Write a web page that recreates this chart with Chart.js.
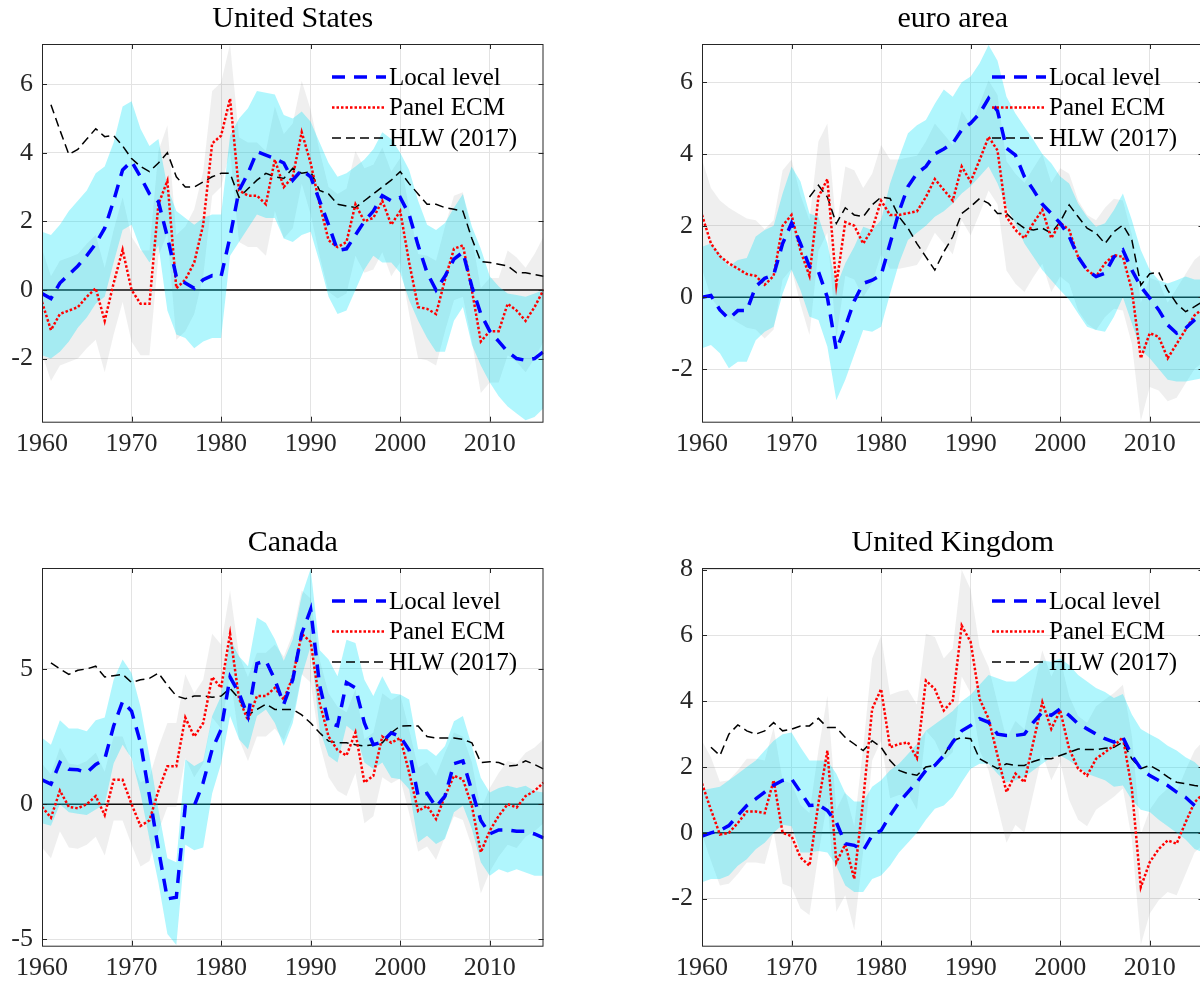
<!DOCTYPE html>
<html>
<head>
<meta charset="utf-8">
<script src="https://cdn.jsdelivr.net/npm/chart.js@4.4.1/dist/chart.umd.min.js"></script>
<style>
  html, body { margin: 0; padding: 0; width: 1200px; height: 988px; overflow: hidden; background: #fff; }
  .panel { position: absolute; width: 560px; height: 470px; }
</style>
</head>
<body>
<div class="panel" style="left:0;top:0"><canvas id="c0" width="560" height="470"></canvas></div>
<div class="panel" style="left:660px;top:0"><canvas id="c1" width="560" height="470"></canvas></div>
<div class="panel" style="left:0;top:524px"><canvas id="c2" width="560" height="470"></canvas></div>
<div class="panel" style="left:660px;top:524px"><canvas id="c3" width="560" height="470"></canvas></div>
<script>
const years = [1960, 1961, 1962, 1963, 1964, 1965, 1966, 1967, 1968, 1969,
  1970, 1971, 1972, 1973, 1974, 1975, 1976, 1977, 1978, 1979,
  1980, 1981, 1982, 1983, 1984, 1985, 1986, 1987, 1988, 1989,
  1990, 1991, 1992, 1993, 1994, 1995, 1996, 1997, 1998, 1999,
  2000, 2001, 2002, 2003, 2004, 2005, 2006, 2007, 2008, 2009,
  2010, 2011, 2012, 2013, 2014, 2015, 2016];
const xTicks = [1960, 1970, 1980, 1990, 2000, 2010];
const legendLabels = ['Local level', 'Panel ECM', 'HLW (2017)'];

// United States
const usLocal = [-0.1, -0.25, 0.2, 0.45, 0.7, 1.0, 1.35, 1.8, 2.6, 3.5,
  3.75, 3.3, 2.8, 2.57, 1.55, 0.39, 0.2, 0.05, 0.3, 0.42,
  0.4, 1.55, 2.9, 3.4, 4.03, 3.93, 3.83, 3.7, 3.2, 3.5,
  3.3, 2.6, 1.9, 1.15, 1.2, 1.6, 2.0, 2.3, 2.75, 2.6,
  2.7, 2.2, 1.3, 0.5, 0.0, 0.4, 0.9, 1.1, 0.1, -0.7,
  -1.2, -1.5, -1.8, -2.0, -2.05, -2.0, -1.8];
const usEcm = [-0.35, -1.17, -0.7, -0.6, -0.5, -0.2, 0.05, -0.9, 0.2, 1.17,
  0.0, -0.4, -0.4, 2.5, 3.18, 0.05, 0.3, 0.8, 1.9, 4.27,
  4.5, 5.58, 2.9, 2.75, 2.75, 2.5, 3.8, 3.0, 3.3, 4.6,
  3.7, 2.5, 1.45, 1.25, 1.4, 2.5, 2.0, 2.1, 2.6, 1.9,
  2.3, 0.8, -0.5, -0.55, -0.7, 0.3, 1.2, 1.3, 0.0, -1.5,
  -1.2, -1.2, -0.4, -0.6, -0.9, -0.5, 0.0];
const usHlw = [null, 5.4, 4.66, 3.95, 4.1, 4.4, 4.7, 4.47, 4.5, 4.2,
  3.83, 3.6, 3.45, 3.7, 4.0, 3.3, 3.0, 3.0, 3.15, 3.3,
  3.4, 3.4, 2.7, 2.95, 3.2, 3.4, 3.3, 3.25, 3.55, 3.4,
  3.45, 2.9, 2.8, 2.5, 2.45, 2.4, 2.6, 2.8, 3.0, 3.2,
  3.45, 3.1, 2.8, 2.5, 2.5, 2.4, 2.35, 2.3, 1.5, 0.83,
  0.8, 0.75, 0.7, 0.5, 0.5, 0.45, 0.4];
const usBandHi = [1.7, 1.6, 1.9, 2.3, 2.6, 2.9, 3.4, 3.6, 4.3, 5.35,
  5.5, 4.7, 4.2, 4.4, 3.0, 2.3, 2.1, 1.9, 2.1, 2.2,
  2.2, 4.5, 5.0, 5.3, 5.8, 5.75, 5.7, 5.1, 5.0, 5.2,
  4.9, 4.3, 3.7, 3.3, 3.4, 3.6, 3.8, 4.1, 4.6, 4.4,
  4.0, 3.5, 2.6, 1.9, 1.75, 1.95, 2.4, 2.8, 1.85, 1.2,
  0.4, 0.1, -0.1, -0.15, -0.2, -0.1, 0.0];
const usBandLo = [-1.9, -2.0, -1.8, -1.5, -1.1, -0.8, -0.4, -0.2, 0.8, 1.75,
  1.9, 1.2, 0.8, 1.3, -0.6, -1.3, -1.4, -1.7, -1.5, -1.4,
  -1.4, 1.0, 1.4, 1.8, 2.2, 2.1, 2.1, 1.5, 1.4, 1.6,
  1.7, 0.8, -0.2, -0.7, -0.6, 0.0, 0.6, 1.0, 0.8, 0.8,
  0.5, -0.3, -0.9, -1.4, -1.8, -1.8, -0.9, -0.5, -1.6, -2.2,
  -2.7, -3.1, -3.4, -3.6, -3.8, -3.7, -3.45];
const usGreyHi = [1.2, 0.4, 0.85, 0.95, 1.05, 1.35, 1.6, 0.65, 1.75, 2.7,
  1.55, 1.15, 1.15, 4.05, 4.8, 1.6, 1.85, 2.35, 3.45, 5.8,
  6.05, 7.17, 4.45, 4.3, 4.3, 4.05, 5.35, 4.55, 4.85, 6.1,
  5.25, 4.05, 3.0, 2.8, 2.95, 4.05, 3.55, 3.65, 4.15, 3.45,
  3.85, 2.35, 1.05, 1.0, 0.85, 1.85, 2.75, 2.85, 1.55, 0.05,
  0.35, 0.35, 1.15, 0.95, 0.65, 1.05, 1.55];
const usGreyLo = [-1.85, -2.65, -2.2, -2.1, -2.0, -1.7, -1.45, -2.4, -1.3, -0.35,
  -1.5, -1.9, -1.9, 1.0, 1.65, -1.45, -1.2, -0.7, 0.4, 2.75,
  3.0, 4.05, 1.4, 1.25, 1.25, 1.0, 2.3, 1.5, 1.8, 3.1,
  2.2, 1.0, -0.05, -0.25, -0.1, 1.0, 0.5, 0.6, 1.1, 0.4,
  0.8, -0.7, -2.0, -2.05, -2.2, -1.2, -0.3, -0.2, -1.5, -3.0,
  -2.7, -2.7, -1.9, -2.1, -2.4, -2.0, -1.5];
const usTicks = [-2, 0, 2, 4, 6];

// euro area
const eaLocal = [0.0, 0.05, -0.35, -0.6, -0.37, -0.37, 0.3, 0.53, 0.62, 1.5,
  2.07, 1.5, 0.86, 0.72, 0.0, -1.47, -0.82, -0.1, 0.39, 0.48,
  0.62, 1.5, 2.39, 3.09, 3.46, 3.65, 4.0, 4.14, 4.3, 4.67,
  4.86, 5.13, 5.55, 5.2, 4.16, 3.97, 3.37, 3.0, 2.6, 2.34,
  2.07, 1.7, 1.13, 0.76, 0.58, 0.67, 1.13, 1.32, 0.76, 0.3,
  -0.02, -0.35, -0.77, -1.0, -0.86, -0.63, -0.45];
const eaEcm = [2.3, 1.5, 1.15, 0.95, 0.8, 0.65, 0.6, 0.35, 0.6, 2.0,
  2.3, 1.3, 0.6, 2.8, 3.3, 0.35, 2.1, 2.0, 1.5, 1.9,
  2.7, 2.3, 2.3, 2.35, 2.4, 2.8, 3.3, 3.0, 2.7, 3.65,
  3.23, 3.83, 4.48, 4.1, 2.25, 1.88, 1.65, 2.07, 2.44, 1.65,
  2.08, 1.88, 1.13, 0.76, 0.58, 0.95, 1.18, 1.13, 0.2, -1.7,
  -1.0, -1.1, -1.7, -1.3, -0.9, -0.5, -0.3];
const eaHlw = [null, null, null, null, null, null, null, null, null, null,
  null, null, 2.8, 3.13, 2.8, 2.06, 2.5, 2.3, 2.25, 2.58,
  2.8, 2.76, 2.25, 1.93, 1.5, 1.13, 0.76, 1.27, 1.69, 2.34,
  2.53, 2.76, 2.62, 2.34, 2.34, 2.11, 1.93, 1.88, 1.93, 1.79,
  2.11, 2.58, 2.25, 1.93, 1.79, 1.5, 1.83, 2.02, 1.6, 0.34,
  0.66, 0.7, 0.2, -0.17, -0.4, -0.26, -0.1];
const eaBandHi = [1.41, 1.5, 1.23, 0.86, 1.04, 1.1, 1.7, 1.88, 2.0, 2.9,
  3.65, 3.23, 2.34, 2.25, 1.5, 0.3, 0.95, 1.41, 1.97, 1.88,
  2.16, 3.18, 3.9, 4.58, 4.8, 4.95, 5.4, 5.8, 5.6, 6.0,
  6.16, 6.53, 7.04, 6.6, 5.6, 5.13, 4.76, 4.4, 4.0, 3.74,
  3.37, 3.18, 2.62, 2.25, 1.97, 2.07, 2.44, 2.9, 2.16, 1.32,
  0.76, 0.48, 0.39, 0.48, 0.58, 0.5, 0.5];
const eaBandLo = [-1.42, -1.33, -1.56, -1.98, -1.8, -1.8, -1.2, -0.96, -0.82, 0.1,
  0.77, 0.2, -0.54, -0.63, -1.38, -2.87, -2.3, -1.6, -0.91, -0.96,
  -0.82, 0.1, 0.95, 1.6, 1.8, 2.0, 2.25, 2.4, 2.62, 2.9,
  3.1, 3.37, 3.65, 3.18, 2.53, 2.07, 1.5, 1.13, 0.76, 0.48,
  0.2, -0.07, -0.45, -0.82, -0.91, -0.96, -0.54, 0.0, -0.73, -1.47,
  -1.7, -2.0, -2.3, -2.35, -2.35, -2.3, -2.25];
const eaGreyHi = [3.85, 3.05, 2.7, 2.5, 2.35, 2.2, 2.15, 1.9, 2.15, 3.55,
  3.85, 2.85, 2.15, 4.35, 4.85, 1.9, 3.65, 3.55, 3.05, 3.45,
  4.25, 3.85, 3.85, 3.9, 3.95, 4.35, 4.85, 4.55, 4.25, 5.2,
  4.8, 5.4, 6.05, 5.65, 3.8, 3.45, 3.2, 3.6, 4.0, 3.2,
  3.6, 3.45, 2.7, 2.3, 2.15, 2.5, 2.75, 2.7, 1.75, -0.15,
  0.55, 0.45, -0.15, 0.25, 0.65, 1.05, 1.25];
const eaGreyLo = [0.8, 0.0, -0.35, -0.55, -0.7, -0.85, -0.9, -1.15, -0.9, 0.5,
  0.8, -0.2, -1.05, 1.3, 1.8, -1.15, 0.6, 0.5, 0.0, 0.4,
  1.2, 0.8, 0.8, 0.85, 0.9, 1.3, 1.8, 1.5, 1.2, 2.15,
  1.73, 2.33, 2.98, 2.6, 0.75, 0.38, 0.15, 0.57, 0.94, 0.15,
  0.58, 0.38, -0.37, -0.74, -0.92, -0.55, -0.32, -0.37, -1.3, -3.45,
  -2.5, -2.6, -2.9, -2.8, -2.4, -2.0, -1.8];
const eaTicks = [-2, 0, 2, 4, 6];

// Canada
const caLocal = [0.9, 0.74, 1.54, 1.29, 1.27, 1.17, 1.47, 1.66, 2.89, 3.8,
  3.44, 2.27, 0.3, -1.66, -3.5, -3.44, -0.06, -0.06, 0.8, 2.03,
  2.76, 4.7, 4.1, 3.25, 5.2, 5.3, 4.6, 3.7, 4.6, 6.3,
  7.2, 4.4, 3.0, 2.9, 4.5, 4.3, 3.0, 2.2, 2.3, 2.64,
  2.5, 2.0, 0.3, 0.4, -0.1, 0.3, 1.5, 1.6, 0.5, -0.6,
  -1.1, -0.95, -0.95, -1.0, -1.0, -1.1, -1.25];
const caEcm = [-0.1, -0.5, 0.5, -0.1, -0.15, 0.0, 0.3, -0.4, 0.9, 0.9,
  0.0, -0.8, -0.6, 0.5, 1.4, 1.4, 3.2, 2.5, 3.0, 4.7,
  4.3, 6.3, 3.9, 3.1, 4.0, 4.0, 4.3, 3.87, 4.7, 6.3,
  6.0, 3.75, 2.5, 2.0, 1.8, 2.65, 0.8, 1.05, 2.5, 2.27,
  2.45, 1.17, -0.25, -0.06, -0.55, 0.3, 1.05, 0.92, -0.06, -1.78,
  -0.98, -0.43, 0.0, -0.12, 0.3, 0.49, 0.8];
const caHlw = [null, 5.22, 5.0, 4.8, 4.95, 5.0, 5.1, 4.7, 4.75, 4.8,
  4.5, 4.6, 4.65, 4.85, 4.4, 4.0, 3.9, 4.0, 4.0, 3.95,
  4.0, 4.28, 3.9, 3.3, 3.5, 3.7, 3.5, 3.5, 3.5, 3.3,
  3.0, 2.64, 2.33, 2.27, 2.27, 2.2, 2.15, 2.2, 2.27, 2.64,
  2.89, 2.9, 2.89, 2.5, 2.45, 2.45, 2.45, 2.4, 2.27, 1.54,
  1.57, 1.54, 1.41, 1.44, 1.6, 1.47, 1.3];
const caBandHi = [2.46, 2.2, 3.1, 2.8, 2.8, 2.7, 3.1, 3.2, 4.6, 5.35,
  4.85, 3.6, 1.78, -0.2, -2.0, -2.15, 1.66, 1.41, 1.6, 3.26,
  4.0, 6.1, 5.47, 5.1, 6.9, 6.7, 6.1, 5.3, 6.1, 7.7,
  8.7, 5.7, 5.35, 4.73, 6.08, 5.96, 4.6, 4.0, 4.73, 4.1,
  4.05, 3.87, 2.03, 2.03, 1.78, 2.15, 3.07, 3.26, 2.15, 0.98,
  0.43, 0.6, 0.68, 0.6, 0.68, 0.49, 0.43];
const caBandLo = [-0.7, -0.8, 0.0, -0.3, -0.35, -0.4, -0.2, 0.0, 1.5, 2.2,
  1.7, 0.4, -1.3, -2.9, -4.8, -5.2, -1.5, -1.7, -1.6, 0.4,
  1.5, 3.26, 2.4, 2.03, 3.26, 3.5, 3.0, 2.15, 3.0, 4.73,
  5.84, 2.76, 1.78, 1.54, 2.9, 2.64, 1.54, 1.3, 1.54, 0.98,
  0.92, 0.55, -1.41, -1.17, -1.47, -1.29, -0.3, -0.06, -0.92, -2.15,
  -2.64, -2.4, -2.52, -2.4, -2.52, -2.64, -2.64];
const caGreyHi = [1.5, 1.1, 2.1, 1.5, 1.45, 1.6, 1.9, 1.2, 2.5, 2.5,
  1.6, 0.8, 1.0, 2.1, 3.0, 3.0, 4.8, 4.1, 4.6, 6.3,
  5.9, 7.9, 5.5, 4.7, 5.6, 5.6, 5.9, 5.45, 6.3, 7.9,
  7.6, 5.35, 4.1, 3.6, 3.4, 4.25, 2.4, 2.65, 4.1, 3.85,
  4.05, 2.75, 1.35, 1.55, 1.05, 1.9, 2.65, 2.5, 1.55, -0.2,
  0.6, 1.15, 1.6, 1.5, 1.9, 2.1, 2.4];
const caGreyLo = [-1.6, -2.0, -1.0, -1.6, -1.65, -1.5, -1.2, -1.9, -0.6, -0.6,
  -1.5, -2.3, -2.1, -1.0, -0.1, -0.1, 1.7, 1.0, 1.5, 3.2,
  2.8, 4.8, 2.4, 1.6, 2.5, 2.5, 2.8, 2.37, 3.2, 4.8,
  4.5, 2.25, 1.0, 0.5, 0.3, 1.15, -0.7, -0.45, 1.0, 0.77,
  0.95, -0.33, -1.75, -1.56, -2.05, -1.2, -0.45, -0.58, -1.56, -3.3,
  -2.5, -1.93, -1.5, -1.62, -1.2, -1.0, -0.7];
const caTicks = [-5, 0, 5];

// United Kingdom
const ukLocal = [-0.1, 0.0, 0.07, 0.22, 0.53, 0.83, 1.03, 1.24, 1.45, 1.59,
  1.64, 1.24, 0.83, 0.85, 0.68, 0.32, -0.33, -0.38, -0.54, -0.08,
  0.07, 0.53, 0.93, 1.24, 1.54, 1.9, 2.05, 2.35, 2.76, 3.1,
  3.26, 3.47, 3.36, 3.0, 2.96, 2.96, 3.0, 3.36, 3.67, 3.57,
  3.77, 3.57, 3.31, 3.16, 3.0, 2.86, 2.76, 2.9, 2.35, 1.95,
  1.74, 1.59, 1.44, 1.24, 1.08, 0.83, 0.6];
const ukEcm = [1.5, 0.7, -0.05, 0.0, 0.3, 0.65, 0.65, 0.6, 1.6, 0.0,
  -0.1, -0.75, -1.0, 0.9, 2.5, -0.9, -0.35, -1.4, 1.0, 3.77,
  4.37, 2.6, 2.7, 2.75, 2.27, 4.63, 4.37, 3.72, 4.02, 6.3,
  5.8, 4.07, 3.47, 2.35, 1.24, 1.8, 1.54, 2.76, 3.97, 3.16,
  3.72, 2.55, 1.95, 1.74, 2.25, 2.45, 2.65, 2.9, 1.34, -1.65,
  -0.89, -0.49, -0.23, -0.33, 0.32, 0.93, 1.2];
const ukHlw = [null, 2.6, 2.35, 3.0, 3.28, 3.1, 3.0, 3.1, 3.35, 3.1,
  3.15, 3.25, 3.25, 3.48, 3.2, 3.2, 2.9, 2.7, 2.5, 2.8,
  2.6, 2.2, 1.9, 1.8, 1.75, 2.0, 2.05, 2.35, 2.8, 2.9,
  2.86, 2.25, 2.1, 1.95, 2.1, 2.05, 2.05, 2.17, 2.25, 2.25,
  2.35, 2.45, 2.55, 2.53, 2.53, 2.57, 2.6, 2.76, 2.25, 1.95,
  2.05, 1.9, 1.7, 1.54, 1.49, 1.44, 1.4];
const ukBandHi = [1.3, 1.35, 1.4, 1.6, 1.8, 2.0, 2.2, 2.5, 2.8, 3.0,
  3.05, 2.6, 2.2, 2.2, 2.2, 1.8, 1.2, 0.95, 0.95, 1.4,
  1.6, 1.9, 2.1, 2.4, 2.7, 3.1, 3.3, 3.5, 3.7, 4.0,
  4.2, 4.5, 4.8, 4.7, 4.6, 4.6, 4.8, 5.0, 5.24, 5.2,
  5.3, 5.1, 4.8, 4.6, 4.4, 4.28, 4.1, 4.22, 3.6, 3.16,
  3.0, 2.85, 2.65, 2.5, 2.3, 2.15, 1.9];
const ukBandLo = [-1.5, -1.4, -1.4, -1.3, -1.0, -0.8, -0.5, -0.3, 0.0, 0.25,
  0.2, -0.6, -0.6, -0.55, -0.6, -1.0, -1.6, -1.8, -1.8, -1.4,
  -1.3, -1.0, -0.6, -0.3, 0.0, 0.4, 0.73, 0.83, 1.1, 1.54,
  1.95, 2.1, 2.1, 1.8, 1.54, 1.6, 1.7, 1.9, 2.1, 2.3,
  2.35, 2.2, 2.0, 1.8, 1.7, 1.6, 1.4, 1.44, 1.0, 0.7,
  0.63, 0.4, 0.2, 0.0, -0.2, -0.49, -0.6];
const ukGreyHi = [2.8, 2.3, 1.55, 1.6, 1.9, 2.25, 2.25, 2.2, 3.2, 1.6,
  1.5, 0.85, 0.6, 2.5, 4.17, 0.7, 1.25, 0.2, 2.6, 5.3,
  6.0, 4.2, 4.3, 4.35, 3.9, 6.05, 5.95, 5.3, 5.6, 8.0,
  7.4, 5.65, 5.05, 3.95, 2.85, 3.4, 3.15, 4.35, 5.55, 4.75,
  5.3, 4.15, 3.55, 3.35, 3.85, 4.05, 4.25, 4.5, 2.95, -0.05,
  0.7, 1.1, 1.35, 1.25, 1.9, 2.5, 2.8];
const ukGreyLo = [-0.05, -0.85, -1.6, -1.55, -1.25, -0.9, -0.9, -0.95, 0.05, -1.55,
  -1.65, -2.3, -2.5, -0.65, 0.95, -2.4, -1.9, -2.95, -0.55, 2.2,
  2.8, 1.05, 1.15, 1.2, 0.7, 3.1, 2.8, 2.2, 2.45, 4.75,
  4.25, 2.5, 1.9, 0.8, -0.3, 0.25, 0.0, 1.2, 2.4, 1.6,
  2.15, 1.0, 0.4, 0.2, 0.7, 0.9, 1.1, 1.35, -0.2, -3.4,
  -2.45, -2.05, -1.8, -1.9, -1.25, -0.6, -0.35];
const ukTicks = [-2, 0, 2, 4, 6, 8];

const panels = [
  { id: 'c0', title: 'United States', local: usLocal, ecm: usEcm, hlw: usHlw,
    bandLo: usBandLo, bandHi: usBandHi, greyLo: usGreyLo, greyHi: usGreyHi, yMin: -3.84, yMax: 7.17, yTicks: usTicks },
  { id: 'c1', title: 'euro area', local: eaLocal, ecm: eaEcm, hlw: eaHlw,
    bandLo: eaBandLo, bandHi: eaBandHi, greyLo: eaGreyLo, greyHi: eaGreyHi, yMin: -3.47, yMax: 7.07, yTicks: eaTicks },
  { id: 'c2', title: 'Canada', local: caLocal, ecm: caEcm, hlw: caHlw,
    bandLo: caBandLo, bandHi: caBandHi, greyLo: caGreyLo, greyHi: caGreyHi, yMin: -5.23, yMax: 8.73, yTicks: caTicks },
  { id: 'c3', title: 'United Kingdom', local: ukLocal, ecm: ukEcm, hlw: ukHlw,
    bandLo: ukBandLo, bandHi: ukBandHi, greyLo: ukGreyLo, greyHi: ukGreyHi, yMin: -3.43, yMax: 8.05, yTicks: ukTicks }
];

const SERIF = '"Liberation Serif", "Times New Roman", serif';
const AXIS = '#262626';
const CYAN = 'rgba(0, 225, 250, 0.31)';
const GREY = 'rgba(120, 120, 120, 0.12)';
const NONE = 'rgba(0,0,0,0)';

function pts(arr) {
  return years.map((yr, i) => ({ x: yr, y: arr[i] }));
}

// zero line, axes box with inward ticks, title and legend
const framePlugin = {
  id: 'frame',
  beforeDatasetsDraw(chart) {
    const { ctx, chartArea: a, scales } = chart;
    const y0 = scales.y.getPixelForValue(0);
    ctx.save();
    ctx.strokeStyle = '#000';
    ctx.lineWidth = 1.5;
    ctx.beginPath();
    ctx.moveTo(a.left, y0);
    ctx.lineTo(a.right, y0);
    ctx.stroke();
    ctx.restore();
  },
  afterDraw(chart, args, opts) {
    const { ctx, chartArea: a, scales } = chart;
    ctx.save();
    ctx.strokeStyle = AXIS;
    ctx.lineWidth = 1;
    ctx.strokeRect(a.left + 0.5, a.top + 0.5, a.right - a.left - 1, a.bottom - a.top);
    ctx.beginPath();
    scales.x.ticks.forEach(t => {
      const px = Math.round(scales.x.getPixelForValue(t.value)) + 0.5;
      ctx.moveTo(px, a.bottom); ctx.lineTo(px, a.bottom - 5);
      ctx.moveTo(px, a.top); ctx.lineTo(px, a.top + 5);
    });
    scales.y.ticks.forEach(t => {
      const py = Math.round(scales.y.getPixelForValue(t.value)) + 0.5;
      ctx.moveTo(a.left, py); ctx.lineTo(a.left + 5, py);
      ctx.moveTo(a.right, py); ctx.lineTo(a.right - 5, py);
    });
    ctx.stroke();

    // title
    ctx.fillStyle = '#000';
    ctx.font = '30px ' + SERIF;
    ctx.textAlign = 'center';
    ctx.textBaseline = 'middle';
    ctx.fillText(opts.text, (a.left + a.right) / 2, a.top - 25);

    // legend
    const rows = [33, 63.5, 94];
    const lines = chart.data.datasets.filter(d => d.label);
    ctx.font = '25px ' + SERIF;
    ctx.textAlign = 'left';
    legendLabels.forEach((lab, i) => {
      const ds = lines.find(d => d.label === lab);
      const y = a.top + rows[i];
      ctx.save();
      ctx.strokeStyle = ds.borderColor;
      ctx.lineWidth = ds.borderWidth;
      ctx.setLineDash(ds.borderDash);
      ctx.beginPath();
      ctx.moveTo(a.left + 290, y);
      ctx.lineTo(a.left + 344, y);
      ctx.stroke();
      ctx.restore();
      ctx.fillStyle = '#000';
      ctx.fillText(lab, a.left + 347, y + 1);
    });
    ctx.restore();
  }
};

panels.forEach(p => {
  new Chart(document.getElementById(p.id), {
    type: 'line',
    data: {
      datasets: [
        { data: pts(p.greyLo), borderColor: NONE, borderWidth: 0, pointRadius: 0, fill: false, order: 7 },
        { data: pts(p.greyHi), borderColor: NONE, borderWidth: 0, pointRadius: 0, fill: '-1', backgroundColor: GREY, order: 6 },
        { data: pts(p.bandLo), borderColor: NONE, borderWidth: 0, pointRadius: 0, fill: false, order: 5 },
        { data: pts(p.bandHi), borderColor: NONE, borderWidth: 0, pointRadius: 0, fill: '-1', backgroundColor: CYAN, order: 4 },
        { label: 'HLW (2017)', data: pts(p.hlw), borderColor: '#000000', borderWidth: 1.5, borderDash: [9, 5], pointRadius: 0, fill: false, order: 3 },
        { label: 'Panel ECM', data: pts(p.ecm), borderColor: '#ff0000', borderWidth: 2.5, borderDash: [2.5, 2], pointRadius: 0, fill: false, order: 2 },
        { label: 'Local level', data: pts(p.local), borderColor: '#0000ff', borderWidth: 3.5, borderDash: [13, 9], pointRadius: 0, fill: false, order: 1 }
      ]
    },
    options: {
      responsive: false,
      animation: false,
      events: [],
      layout: { padding: { left: 0, right: 16.5, top: 44, bottom: 0 } },
      elements: { line: { tension: 0, borderCapStyle: 'butt' } },
      plugins: {
        legend: { display: false },
        tooltip: { enabled: false },
        frame: { text: p.title }
      },
      scales: {
        x: {
          type: 'linear', min: 1960, max: 2016,
          afterBuildTicks: s => { s.ticks = xTicks.map(v => ({ value: v })); },
          afterFit: s => { s.height = 48.3; },
          grid: { color: '#e3e3e3', drawTicks: false },
          border: { display: false },
          ticks: { callback: v => String(v), font: { family: SERIF, size: 26 }, color: AXIS, padding: 7, maxRotation: 0, autoSkip: false }
        },
        y: {
          min: p.yMin, max: p.yMax,
          afterBuildTicks: s => { s.ticks = p.yTicks.map(v => ({ value: v })); },
          afterFit: s => { s.width = 42; },
          grid: { color: '#e3e3e3', drawTicks: false },
          border: { display: false },
          ticks: { callback: v => String(v), font: { family: SERIF, size: 26 }, color: AXIS, padding: 9 }
        }
      }
    },
    plugins: [framePlugin]
  });
});
</script>
</body>
</html>
